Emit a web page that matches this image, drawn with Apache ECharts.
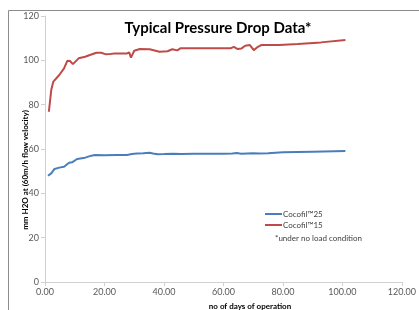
<!DOCTYPE html>
<html>
<head>
<meta charset="utf-8">
<script src="https://cdn.jsdelivr.net/npm/echarts@6/dist/echarts.min.js"></script>
<style>
  html, body { margin: 0; padding: 0; background: #fff; }
  #chart { width: 419px; height: 310px; }
</style>
</head>
<body>
<div id="chart"></div>
<script>
// Cocofil 25 (blue)
const days25 = [1.0, 2.1, 3.2, 4.8, 6.4, 8.1, 9.1, 10.8, 13.5, 15.6, 16.8, 20, 24, 27.6, 29.2, 30.9, 33, 35.2, 36.3, 37.9, 40.1, 43, 46, 50, 55, 60, 63, 64.5, 66, 70, 72, 75, 80, 90, 101];
const vals25 = [47.9, 49.0, 51.0, 51.6, 52.0, 53.8, 54.0, 55.5, 56.1, 57.0, 57.3, 57.2, 57.3, 57.3, 57.7, 58.0, 58.1, 58.3, 58.0, 57.6, 57.7, 57.9, 57.8, 57.9, 57.9, 57.9, 58.0, 58.2, 57.9, 58.1, 58.0, 58.1, 58.5, 58.8, 59.1];

// Cocofil 15 (red)
const days15 = [1.3, 2.1, 2.8, 4.8, 6.4, 7.5, 8.4, 9.4, 11.3, 13.5, 15.1, 17.3, 18.9, 20.5, 21.6, 23.3, 27.6, 28.3, 28.9, 30, 31.9, 35.2, 38.5, 41.2, 42.8, 44.5, 45.5, 50, 56.9, 62.4, 63.5, 64.8, 66, 67.3, 68.9, 70.2, 71.6, 72.7, 78.7, 85, 92.8, 101];
const vals15 = [76.8, 86.6, 90.4, 93.4, 96.4, 99.8, 99.7, 98.3, 100.9, 101.6, 102.4, 103.4, 103.4, 102.7, 102.8, 103.1, 103.1, 103.6, 101.2, 104.3, 105.1, 105.0, 103.9, 104.1, 105.0, 104.5, 105.4, 105.4, 105.4, 105.4, 106.1, 105.1, 105.3, 106.6, 106.9, 104.6, 106.1, 106.9, 106.9, 107.4, 108.1, 109.2];

const seriesNames = ['Cocofil\u212225', 'Cocofil\u212215'];
const axisTicks = [0, 20, 40, 60, 80, 100, 120];

const zip = (xs, ys) => xs.map((x, i) => [x, ys[i]]);

const chart = echarts.init(document.getElementById('chart'));
const font = 'Lato, "Open Sans", sans-serif';

chart.setOption({
  animation: false,
  textStyle: { fontFamily: font },
  grid: { left: 45, right: 6, top: 16, bottom: 28, containLabel: false },
  xAxis: {
    type: 'value',
    min: axisTicks[0], max: axisTicks[axisTicks.length - 1], interval: 20,
    splitLine: { show: false },
    axisLine: { lineStyle: { color: '#d0d0d0' } },
    axisTick: { length: 4, lineStyle: { color: '#d0d0d0' } },
    axisLabel: { color: '#595959', fontSize: 9, margin: 6, formatter: v => v.toFixed(2) }
  },
  yAxis: {
    type: 'value',
    min: axisTicks[0], max: axisTicks[axisTicks.length - 1], interval: 20,
    splitLine: { show: false },
    axisLine: { show: true, lineStyle: { color: '#d0d0d0' } },
    axisTick: { show: true, length: 4, lineStyle: { color: '#d0d0d0' } },
    axisLabel: { color: '#595959', fontSize: 9, margin: 6 }
  },
  legend: {
    orient: 'vertical',
    left: 265, top: 209, padding: 0,
    icon: 'rect',
    itemWidth: 17, itemHeight: 2, itemGap: 1,
    textStyle: { fontSize: 8, lineHeight: 10, color: '#404040', padding: [0, 0, 0, -4] },
    data: seriesNames
  },
  series: [
    {
      name: seriesNames[0], type: 'line', symbol: 'none',
      lineStyle: { color: '#4a7ebb', width: 2 }, itemStyle: { color: '#4a7ebb' },
      data: zip(days25, vals25)
    },
    {
      name: seriesNames[1], type: 'line', symbol: 'none',
      lineStyle: { color: '#be4b48', width: 2 }, itemStyle: { color: '#be4b48' },
      data: zip(days15, vals15)
    }
  ],
  graphic: [
    { type: 'rect', shape: { x: 8.5, y: 10.5, width: 500, height: 400 },
      style: { fill: 'none', stroke: '#8c8c8c', lineWidth: 1 }, silent: true },
    { type: 'text', x: 218, y: 28,
      style: { text: 'Typical Pressure Drop Data*', font: 'bold 15px ' + font, fill: '#000',
               textAlign: 'center', textVerticalAlign: 'middle' } },
    { type: 'text', x: 25, y: 170, rotation: Math.PI / 2,
      style: { text: 'mm H2O at (60m/h flow velocity)', font: 'bold 8px ' + font, fill: '#000',
               textAlign: 'center', textVerticalAlign: 'middle' } },
    { type: 'text', x: 250, y: 306,
      style: { text: 'no of days of operation', font: 'bold 8px ' + font, fill: '#000',
               textAlign: 'center', textVerticalAlign: 'middle' } },
    { type: 'text', x: 275, y: 238,
      style: { text: '*under no load condition', font: '8px ' + font, fill: '#404040',
               textAlign: 'left', textVerticalAlign: 'middle' } }
  ]
});
</script>
</body>
</html>
